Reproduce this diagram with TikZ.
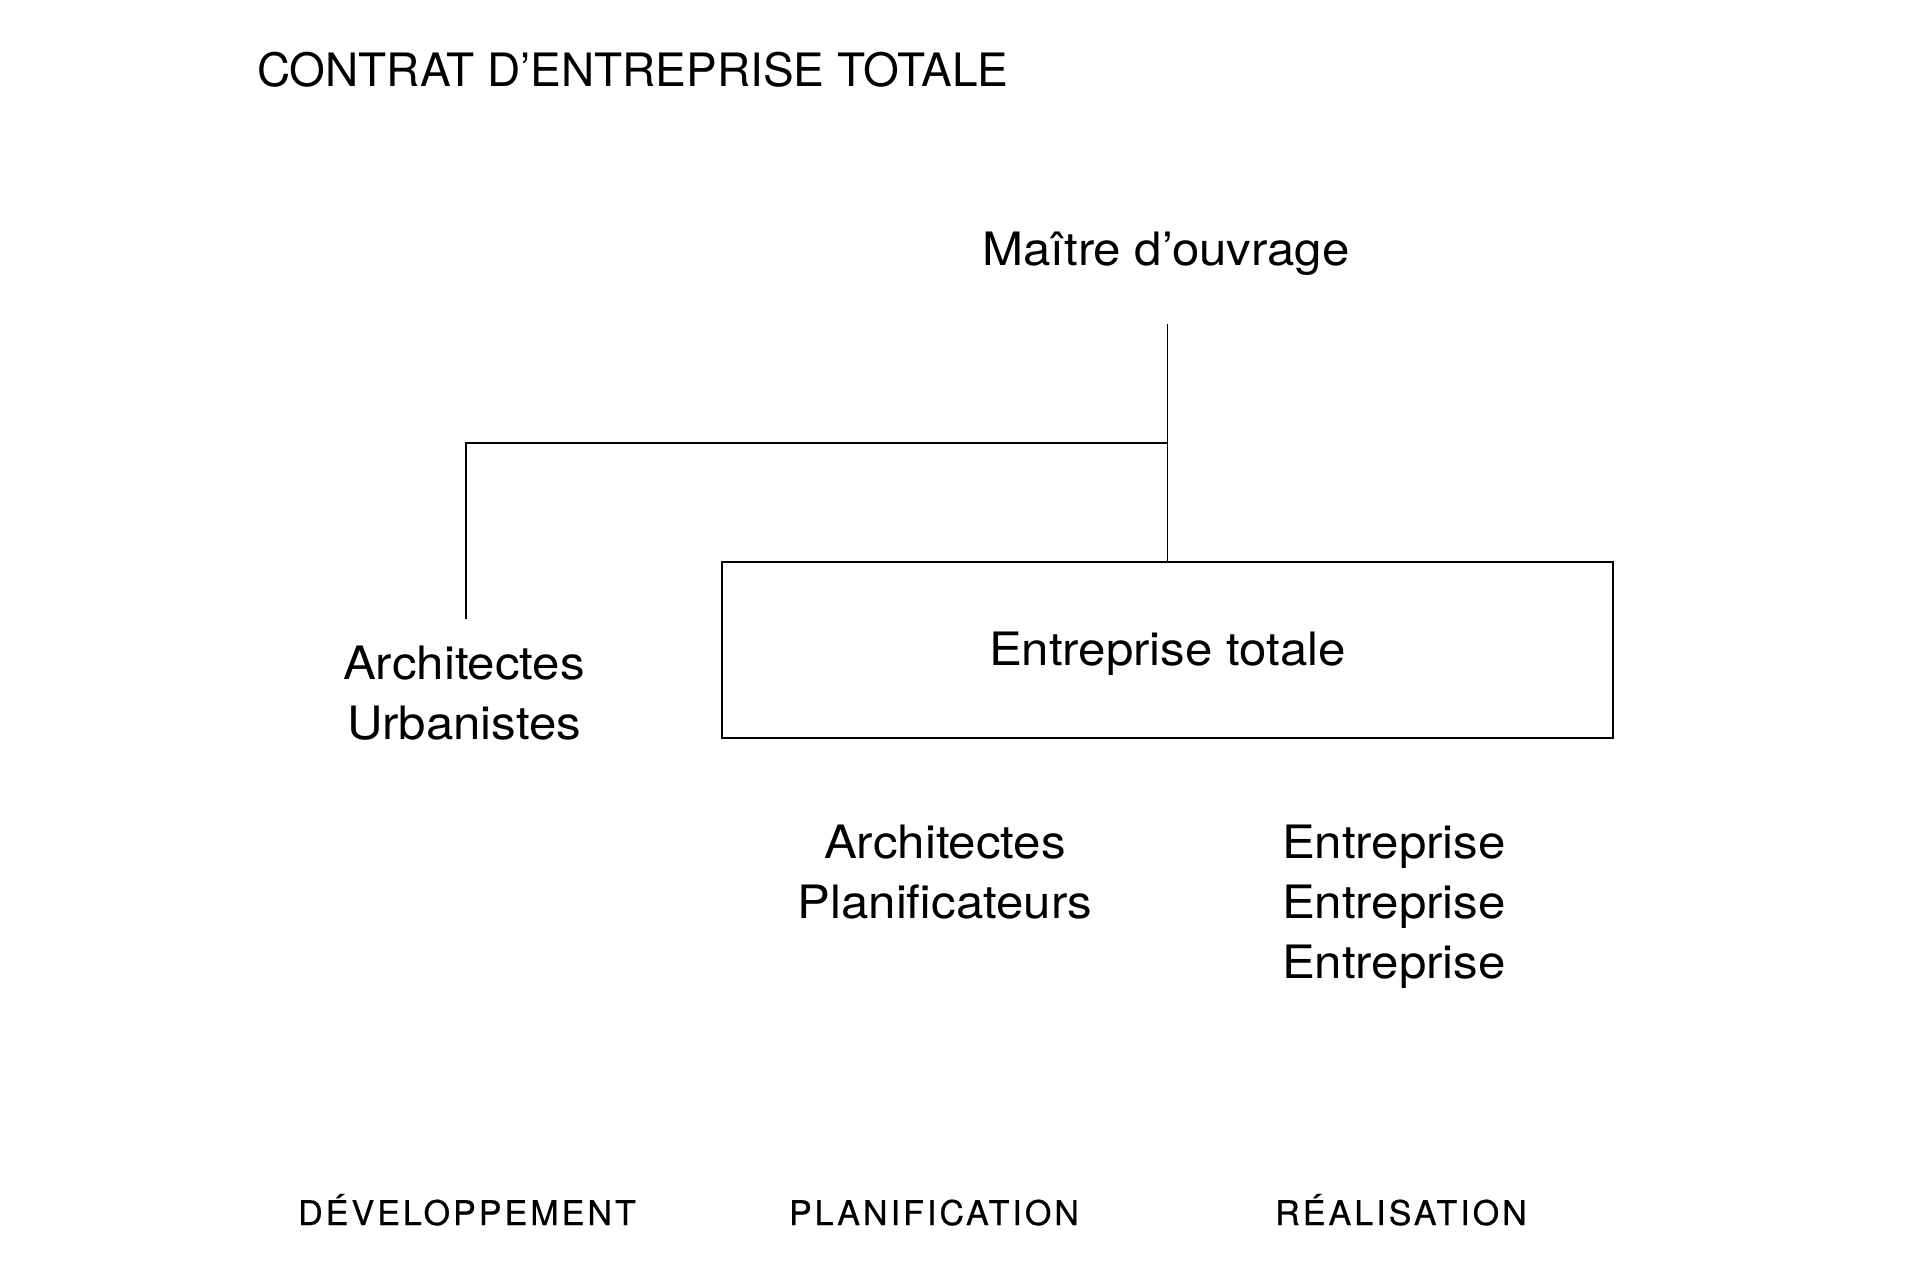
\documentclass[tikz,border=0pt]{standalone}
\usepackage{fontspec}
\setmainfont{TeX Gyre Heros}
\newfontfamily\labfont[FakeStretch=1.07]{TeX Gyre Heros}
\newfontfamily\phasefont[LetterSpace=9,FakeBold=0.6]{TeX Gyre Heros}
\begin{document}
\begin{tikzpicture}[x=1pt,y=-1pt,
  every node/.style={inner sep=0pt, outer sep=0pt, text=black},
  titletext/.style={font=\fontsize{46}{60}\selectfont},
  labtext/.style={font=\labfont\fontsize{46}{60}\selectfont},
  phasetext/.style={font=\phasefont\fontsize{34}{40}\selectfont, anchor=base},
  conn/.style={draw=black, line width=1.2pt},
  frame/.style={draw=black, line width=1.4pt, minimum width=891pt, minimum height=176pt,
                text height=33pt, text depth=3pt}
]
\useasboundingbox (0,0) rectangle (1920,1280);

\node[titletext, anchor=base west] (title) at (257,86) {CONTRAT D’ENTREPRISE TOTALE};

\node[labtext, anchor=base] (maitre) at (1166,265) {Maître d’ouvrage};

\node[frame, labtext] (total) at (1167.5,650) {Entreprise totale};

\node[labtext, anchor=north, align=center] (archU) at (464,646) {Architectes\\Urbanistes};

\node[labtext, anchor=north, align=center] (archP) at (945,825) {Architectes\\Planificateurs};

\node[labtext, anchor=north west, align=left] (entr) at (1282,825) {Entreprise\\Entreprise\\Entreprise};

\node[phasetext] (dev) at (467,1225) {DÉVELOPPEMENT};
\node[phasetext] (plan) at (934,1225) {PLANIFICATION};
\node[phasetext] (real) at (1401,1225) {RÉALISATION};

\coordinate (junc) at (total.north |- 0,443);
\coordinate (lefttop) at (466,443);

\draw[conn, shorten <=49pt] (total.north |- maitre.south) -- (total.north);
\draw[conn, shorten >=27pt] (junc) -- (lefttop) -- (lefttop |- archU.north);
\end{tikzpicture}
\end{document}
